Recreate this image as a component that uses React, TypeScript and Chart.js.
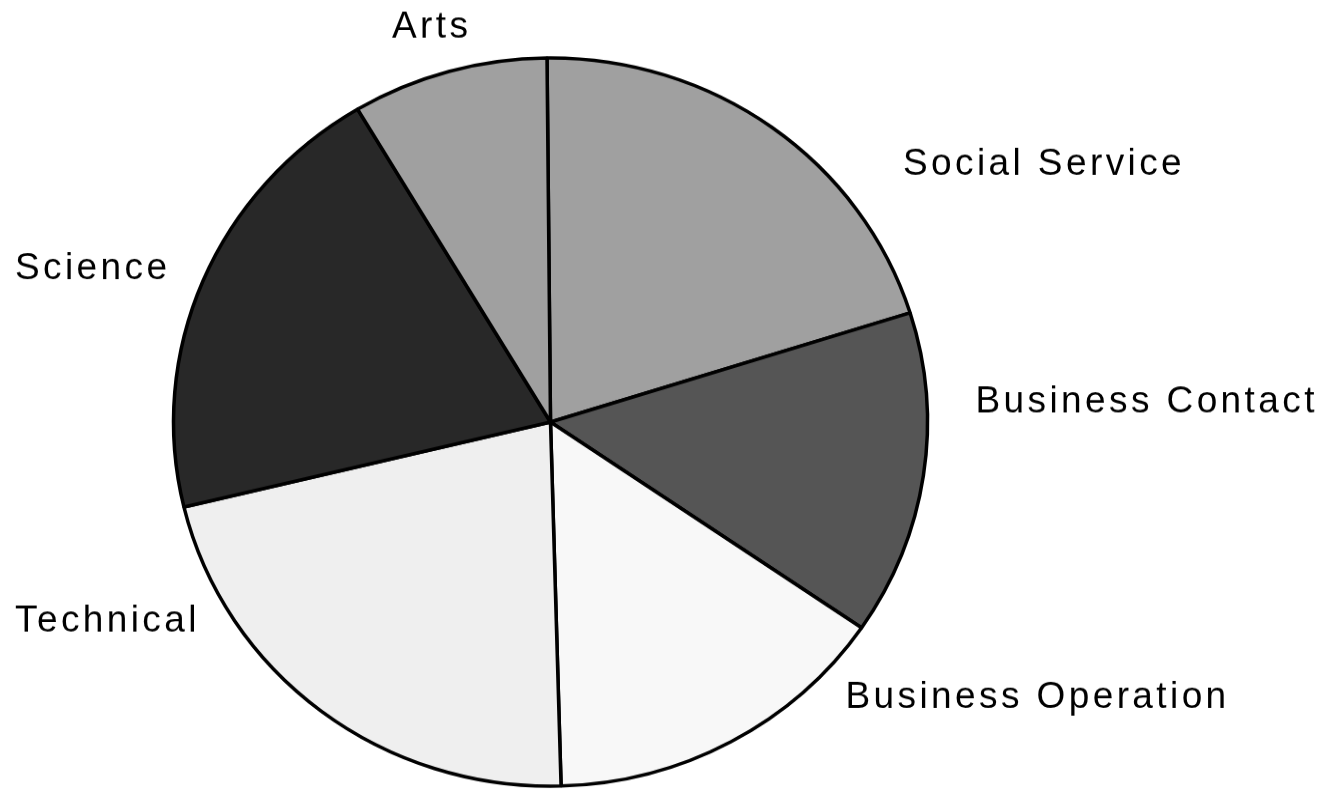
import React, { useEffect, useRef } from "react";
import { Chart, registerables } from "chart.js";

Chart.register(...registerables);

const categories = ["Social Service", "Business Contact", "Business Operation", "Technical", "Science", "Arts"];
const shares = [20.3, 14.4, 15.0, 21.7, 20.2, 8.4];
const sliceColors = ["#a0a0a0", "#555555", "#f8f8f8", "#efefef", "#282828", "#a0a0a0"];

// label placement relative to pie centre (display px): [dx, baseline dy]
const labelOffsets: [number, number][] = [
  [352.5, -247],
  [425, -10],
  [295, 286],
  [-535.5, 210],
  [-535.5, -143],
  [-158.5, -384],
];

const W = 1341;
const H_DISPLAY = 790;
const H_CANVAS = 818;
const SY = H_DISPLAY / H_CANVAS;

const labelPlugin = {
  id: "outerLabels",
  afterDatasetsDraw(chart: any) {
    const meta = chart.getDatasetMeta(0);
    const arc = meta.data[0];
    if (!arc) return;
    const cx = arc.x;
    const cy = arc.y;
    const ctx = chart.ctx;
    ctx.save();
    ctx.font = '37px "Liberation Sans", Arial, sans-serif';
    (ctx as any).letterSpacing = "3.4px";
    ctx.fillStyle = "#000000";
    ctx.textAlign = "left";
    ctx.textBaseline = "alphabetic";
    categories.forEach((label, i) => {
      const [dx, dy] = labelOffsets[i];
      ctx.save();
      ctx.translate(cx + dx, cy + dy / SY);
      ctx.scale(1, 1 / SY);
      ctx.fillText(label, 0, 0);
      ctx.restore();
    });
    ctx.restore();
  },
};

export default function App() {
  const ref = useRef<HTMLCanvasElement | null>(null);
  useEffect(() => {
    if (!ref.current) return;
    const chart = new Chart(ref.current, {
      type: "pie",
      data: {
        labels: categories,
        datasets: [
          {
            data: shares,
            backgroundColor: sliceColors,
            borderColor: "#000000",
            borderWidth: 3.5,
            hoverOffset: 0,
          },
        ],
      },
      options: {
        responsive: false,
        animation: false,
        rotation: -0.53,
        radius: 377,
        layout: { padding: { left: 0, right: 240, top: 56, bottom: 0 } },
        plugins: {
          legend: { display: false },
          tooltip: { enabled: false },
          title: { display: false },
        },
        events: [],
      },
      plugins: [labelPlugin],
    });
    return () => chart.destroy();
  }, []);
  return (
    <div style={{ position: "fixed", left: 0, top: 0, width: W, height: H_DISPLAY, background: "#fff" }}>
      <canvas
        ref={ref}
        width={W}
        height={H_CANVAS}
        style={{ width: `${W}px`, height: `${H_DISPLAY}px`, display: "block" }}
      />
    </div>
  );
}
